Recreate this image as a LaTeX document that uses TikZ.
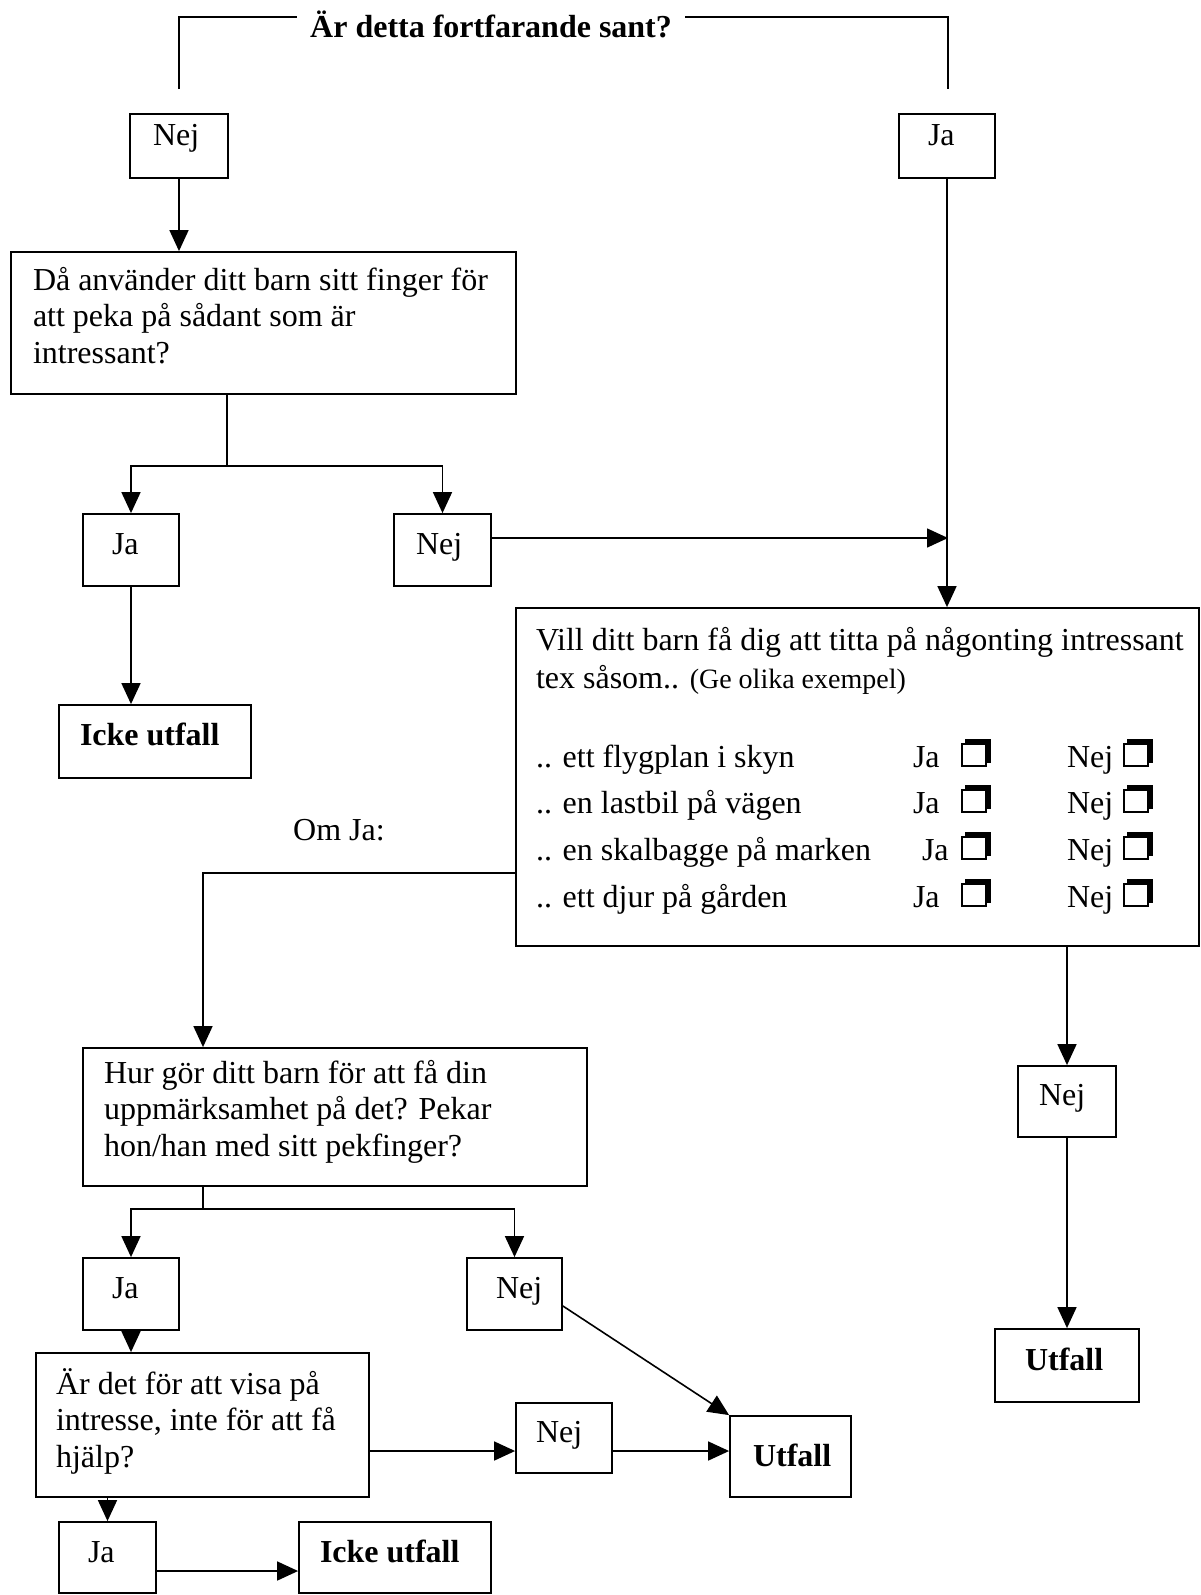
\documentclass[tikz,border=0pt]{standalone}
\usepackage{fontspec}
\setmainfont{Liberation Serif}
\usetikzlibrary{arrows.meta}
\newcommand\fs{\rule{0pt}{30pt}}
% name, x, y, width, height, left pad, top space, text
\newcommand\bnode[8]{\node[bx] (#1) at (#2,#3) {\parbox[c][#5][t]{#4}{\raggedright\leftskip=#6\relax\vspace*{#7}\fs #8}};}
\newcommand\chk[2]{\fill (#1+4,#2-28) rectangle (#1+30,#2-4);
  \filldraw[fill=white,line width=2.2pt] (#1+1,#2-23) rectangle (#1+25,#2-1);}
\begin{document}
\begin{tikzpicture}[x=1pt,y=-1pt,font=\fontsize{32pt}{36.6pt}\selectfont,
  bx/.style={draw,line width=1.8pt,inner sep=0pt,anchor=center},
  ln/.style={line width=1.6pt},
  arr/.style={line width=1.6pt,-{Triangle[length=21pt,width=19pt]}}]
\useasboundingbox (0,0) rectangle (1201,1595);
% title
\node[font=\fontsize{32pt}{36.6pt}\selectfont\bfseries,anchor=base west,inner ysep=0pt,inner xsep=13pt] (title) at (297,38) {Är detta fortfarande sant?};
\coordinate (tly) at (0,17);
\coordinate (tl) at (179,89);
\coordinate (tr) at (948,89);
\draw[ln] (tl) |- (title.west |- tly);
\draw[ln] (title.east |- tly) -| (tr);
% top row
\bnode{Nej1}{179}{146}{98pt}{64pt}{23pt}{1pt}{Nej}
\bnode{Ja1}{947}{146}{96pt}{64pt}{29pt}{1pt}{Ja}
% left branch
\bnode{Q1}{263.5}{323}{505pt}{142pt}{22pt}{8pt}{Då använder ditt barn sitt finger för\\ att peka på sådant som är\\ intressant?}
\bnode{Ja2}{131}{550}{96pt}{72pt}{29pt}{10pt}{Ja}
\bnode{Nej2}{442.5}{550}{97pt}{72pt}{22pt}{10pt}{Nej}
\bnode{Icke1}{155}{741.5}{192pt}{73pt}{21pt}{10pt}{\textbf{Icke utfall}}
% big question
\bnode{Q2}{857.5}{777}{683pt}{338pt}{20pt}{12pt}{Vill ditt barn få dig att titta på någonting intressant\\[1.4pt]
tex såsom.. {\fontsize{28pt}{32pt}\selectfont (Ge olika exempel)}\\[42.4pt]
\makebox[377pt][l]{.. ett flygplan i skyn}\makebox[154pt][l]{Ja}Nej\\[9.4pt]
\makebox[377pt][l]{.. en lastbil på vägen}\makebox[154pt][l]{Ja}Nej\\[10.4pt]
\makebox[386pt][l]{.. en skalbagge på marken}\makebox[145pt][l]{Ja}Nej\\[10.4pt]
\makebox[377pt][l]{.. ett djur på gården}\makebox[154pt][l]{Ja}Nej}
\chk{961}{767}\chk{1123}{767}
\chk{961}{813}\chk{1123}{813}
\chk{961}{860}\chk{1123}{860}
\chk{961}{907}\chk{1123}{907}
\node[anchor=base west,inner sep=0pt] (omja) at (293,840) {Om Ja:};
% lower left
\bnode{Q3}{335}{1117}{504pt}{138pt}{21pt}{5pt}{Hur gör ditt barn för att få din\\ uppmärksamhet på det? Pekar\\ hon/han med sitt pekfinger?}
\bnode{Ja3}{131}{1294}{96pt}{72pt}{29pt}{10pt}{Ja}
\bnode{Nej3}{514.5}{1294}{95pt}{72pt}{29pt}{10pt}{Nej}
\bnode{Q4}{202.5}{1425}{333pt}{144pt}{20pt}{11pt}{Är det för att visa på\\ intresse, inte för att få\\ hjälp?}
\bnode{Nej4}{564}{1438}{96pt}{70pt}{20pt}{9pt}{Nej}
\bnode{Utfall1}{790.5}{1456.5}{121pt}{81pt}{23pt}{20pt}{\textbf{Utfall}}
\bnode{Ja4}{107.5}{1557.5}{97pt}{71pt}{29pt}{10pt}{Ja}
\bnode{Icke2}{395}{1557.5}{192pt}{71pt}{21pt}{10pt}{\textbf{Icke utfall}}
% right branch
\bnode{Nej5}{1067}{1101.5}{98pt}{71pt}{21pt}{9pt}{Nej}
\bnode{Utfall2}{1067}{1365.5}{144pt}{73pt}{30pt}{11pt}{\textbf{Utfall}}
% connectors
\coordinate (j1) at (227,466);
\coordinate (m1) at (948,538);
\coordinate (c2) at (203,873);
\coordinate (j2) at (203,1209);
\coordinate (r4) at (0,1451);
\coordinate (r5) at (0,1571);
\draw[arr] (Nej1.south) -- (Nej1.south |- Q1.north);
\draw[ln] (j1 |- Q1.south) -- (j1);
\draw[arr] (j1) -| (Ja2.north);
\draw[arr] (j1) -| (Nej2.north);
\draw[arr] (Ja2.south) -- (Ja2.south |- Icke1.north);
\draw[arr] (Nej2.east |- m1) -- (m1);
\draw[arr] (Ja1.south) -- (Ja1.south |- Q2.north);
\draw[arr] (Q2.west |- c2) -| (Q3.north -| c2);
\draw[ln] (j2 |- Q3.south) -- (j2);
\draw[arr] (j2) -| (Ja3.north);
\draw[arr] (j2) -| (Nej3.north);
\draw[arr] (Ja3.south) -- (Ja3.south |- Q4.north);
\draw[arr] (Q4.east |- r4) -- (Nej4.west |- r4);
\draw[arr] (Nej4.east |- r4) -- (Utfall1.west |- r4);
\draw[arr] ([yshift=-12pt]Nej3.east) -- (Utfall1.north west);
\draw[arr] (Ja4.north |- Q4.south) -- (Ja4.north);
\draw[arr] (Ja4.east |- r5) -- (Icke2.west |- r5);
\draw[arr] (Nej5.north |- Q2.south) -- (Nej5.north);
\draw[arr] (Nej5.south) -- (Utfall2.north);
\end{tikzpicture}
\end{document}
